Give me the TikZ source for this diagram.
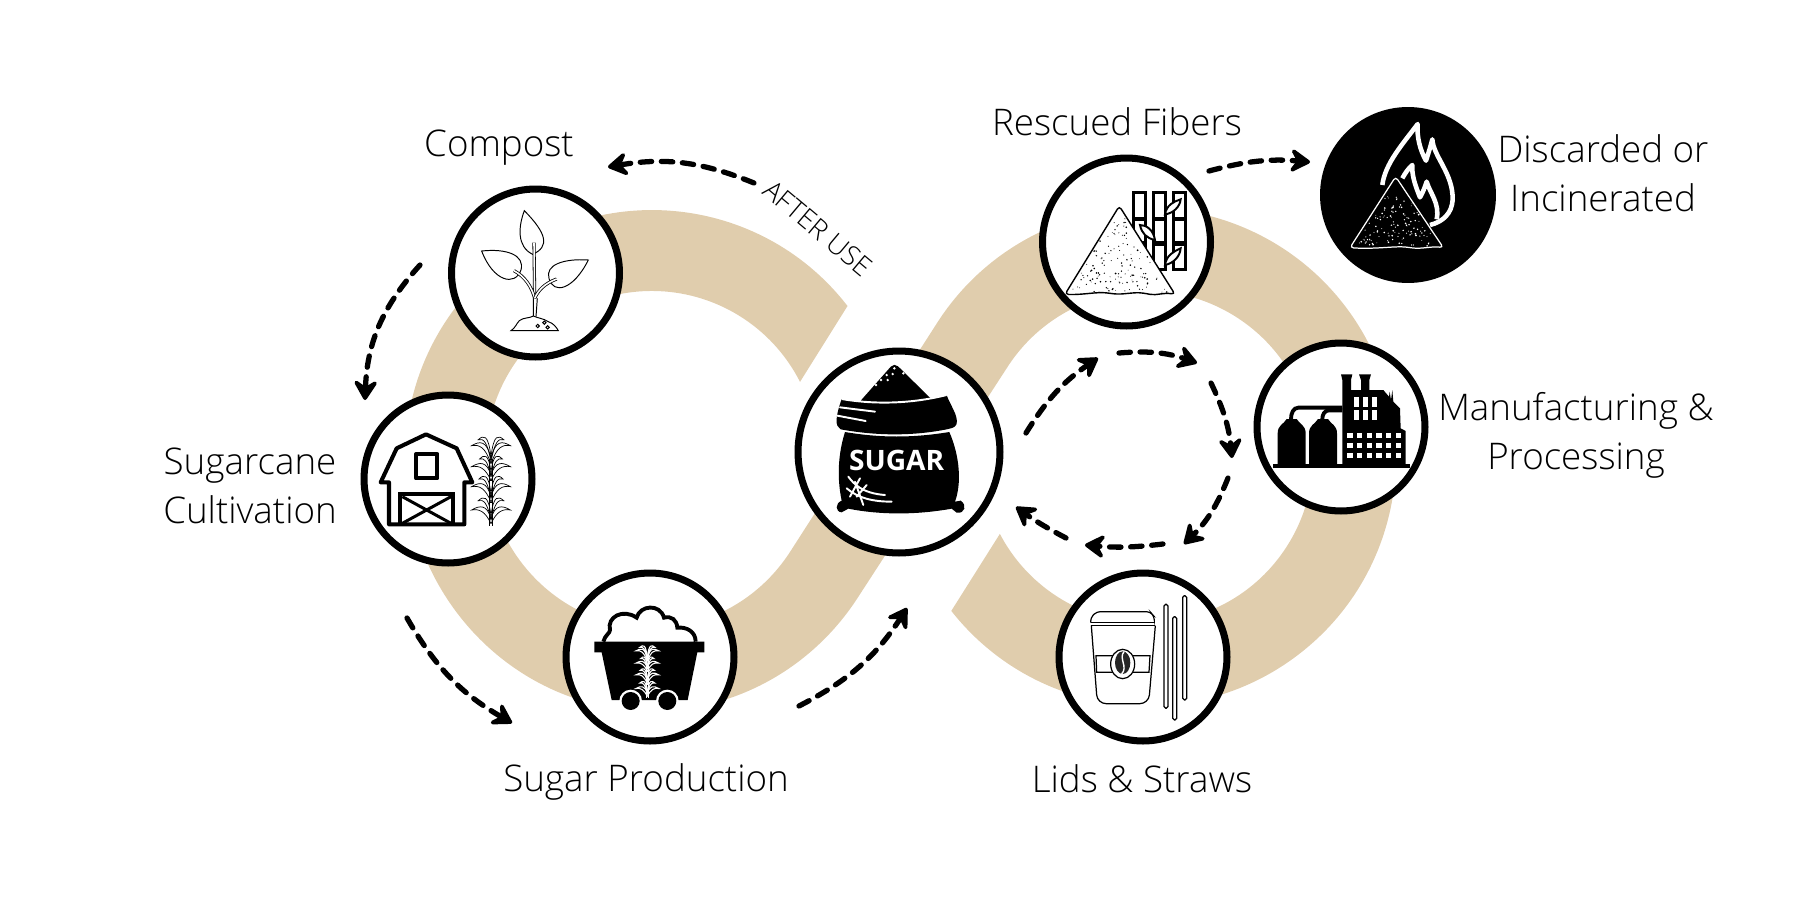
\documentclass[tikz,border=0pt]{standalone}
\usepackage{fontspec}
\setmainfont{Open Sans}[UprightFont=* Light, BoldFont=* Bold]
\usepackage{xcolor}
\usepackage{tikz}
\usetikzlibrary{arrows.meta, calc}
\definecolor{ringtan}{HTML}{E0CDAD}

% sugarcane plant, origin at the foot of the stem
\newcommand{\caneicon}[1]{%
  \draw[#1] (-4,0) -- (-4,-200) (4,0) -- (4,-200) (-4,-70) -- (4,-70) (-4,-135) -- (4,-135);
  \foreach \sd in {-1,1}
    \foreach \by/\tx/\ty in {-200/58/-240, -205/38/-258, -150/58/-177, -160/34/-200, -85/58/-117, -95/36/-140, -20/58/-47, -30/38/-75}
      \draw[#1] (0,\by) .. controls ({\sd*0.2*\tx},{\ty-18}) and ({\sd*0.6*\tx},{\ty-14}) .. ({\sd*\tx},\ty)
        .. controls ({\sd*0.6*\tx},{\ty-4}) and ({\sd*0.3*\tx},{\ty+4}) .. (0,{\by+14});
}
% speckled heap: apex x, apex y, left x, right x, base y, colour, dots
\newcommand{\heapdots}[7]{%
  \foreach \k in {1,...,#7}{
    \pgfmathsetmacro\uu{0.12+0.86*sqrt(rnd)}
    \pgfmathsetmacro\vv{0.04+0.92*rnd}
    \pgfmathsetmacro\rr{1.2+1.6*rnd}
    \fill[#6] ({#1+\uu*(#3-#1+\vv*(#4-#3))},{#2+\uu*(#5-#2)}) circle (\rr);
  }
}

\begin{document}
\begin{tikzpicture}[
  x=0.02cm, y=-0.02cm,
  iconcircle/.style={circle, draw=black, fill=white, line width=4pt, inner sep=0pt, minimum size=3.36cm},
  steptext/.style={align=center, font=\fontsize{20.9}{28}\selectfont},
  arrow/.style={-{Stealth[length=14pt, width=17pt, inset=5.5pt, round]}, line width=3pt,
                dash pattern=on 6.5pt off 5.5pt, line cap=round},
  crop/.style={shift={#1}, x=0.02cm/3, y=-0.02cm/3},
  thinline/.style={draw=black, line width=0.55pt}
]
\useasboundingbox (0,0) rectangle (1800,900);

% the tan band
\fill[ringtan] (847.5,306) arc[start angle=-37.7, end angle=-180, radius=247]
  arc[start angle=-180, end angle=-326.6, x radius=247, y radius=254]
  -- (1008.4,365.6) arc[start angle=-146.6, end angle=152.4, radius=166]
  -- (951.3,610.9) arc[start angle=141.8, end angle=-147, radius=249]
  -- (791.2,550.1) arc[start angle=33, end angle=180, x radius=166, y radius=171]
  arc[start angle=180, end angle=333.1, radius=166] -- cycle;

% circles
\node[iconcircle] (compost) at (535.5,273) {};
\node[iconcircle] (barn) at (448,479) {};
\node[iconcircle] (production) at (650,657) {};
\node[iconcircle, minimum size=4.04cm] (sugar) at (899,452) {};
\node[iconcircle] (fibers) at (1126.5,242) {};
\node[iconcircle] (factory) at (1341,427) {};
\node[iconcircle] (lids) at (1143,657) {};
\node[circle, fill=black, inner sep=0pt, minimum size=3.52cm] (burn) at (1408,195) {};

% labels
\node[steptext] (compostlabel) at (499,148) {Compost};
\node[steptext] (barnlabel) at (250,486) {Sugarcane\\Cultivation};
\node[steptext] (productionlabel) at (646,782) {Sugar Production};
\node[steptext] (fiberslabel) at (1117,122) {Rescued Fibers};
\node[steptext] (burnlabel) at (1603,173) {Discarded or\\Incinerated};
\node[steptext] (factorylabel) at (1576,435) {Manufacturing \&\\Processing};
\node[steptext] (lidslabel) at (1142,779) {Lids \& Straws};
\node[rotate=-40, font=\fontsize{15.5}{18}\selectfont] (afteruse) at (818,228) {AFTER USE};

% free ends of the arrows
\coordinate (useS) at (754,183);   \coordinate (useE) at (608,167);
\coordinate (compS) at (420,265);  \coordinate (compE) at (365,400);
\coordinate (barnS) at (407,618);  \coordinate (barnE) at (512,723);
\coordinate (prodS) at (799,706);  \coordinate (prodE) at (907,608);
\coordinate (sugS) at (1026,433);  \coordinate (sugE) at (1098,358);
\coordinate (topS) at (1119,353);  \coordinate (topE) at (1197,363);
\coordinate (rgtS) at (1211,383);  \coordinate (rgtE) at (1232,458);
\coordinate (lowS) at (1228,478);  \coordinate (lowE) at (1184,544);
\coordinate (botS) at (1163,544);  \coordinate (botE) at (1085,545);
\coordinate (endS) at (1066,538);  \coordinate (endE) at (1016,507);
\coordinate (fibS) at (1209,171);  \coordinate (fibE) at (1310,162);

% arrows
\draw[arrow] (useS) to[bend right=16] (useE);
\draw[arrow] (compS) to[bend right=20] (compE);
\draw[arrow] (barnS) to[bend right=15] (barnE);
\draw[arrow] (prodS) to[bend right=15] (prodE);
\draw[arrow] (sugS) to[bend left=12] (sugE);
\draw[arrow] (topS) to[bend left=12] (topE);
\draw[arrow] (rgtS) to[bend left=10] (rgtE);
\draw[arrow] (lowS) to[bend left=12] (lowE);
\draw[arrow] (botS) to[bend left=6] (botE);
\draw[arrow] (endS) to[bend left=4] (endE);
\draw[arrow] (fibS) to[bend left=10] (fibE);

% plant
\begin{scope}[crop={(450,190)}, thinline]
  \draw (223,62) .. controls (205,110) and (200,170) .. (248,193) .. controls (300,170) and (290,130) .. cycle;
  \draw (95,183) .. controls (170,175) and (225,195) .. (213,240) .. controls (195,290) and (130,275) .. cycle;
  \draw (415,210) .. controls (340,205) and (285,225) .. (297,265) .. controls (310,315) and (370,300) .. cycle;
  \draw[double=white, double distance=0.9pt, line width=0.45pt] (252,158) -- (254,325);
  \draw[double=white, double distance=0.9pt, line width=0.45pt] (192,242) .. controls (225,260) and (245,290) .. (254,325);
  \draw[double=white, double distance=0.9pt, line width=0.45pt] (320,267) .. controls (285,280) and (265,300) .. (254,325);
  \draw (250,325) -- (250,378) (262,325) -- (258,380);
  \draw (183,422) .. controls (195,415) and (200,400) .. (208,392) .. controls (220,382) and (240,385) .. (250,378)
    .. controls (265,385) and (280,385) .. (295,395) .. controls (310,400) and (318,410) .. (325,422) -- cycle;
  \draw (263,408) circle (5) (283,398) circle (5) (293,412) circle (5);
\end{scope}

% barn and cane
\begin{scope}[crop={(365,395)}]
  \draw[black, line width=2.3pt, line join=round] (47,262) -- (95,160) -- (183,118) -- (275,160) -- (322,262) -- (298,262)
    -- (298,388) -- (72,388) -- (72,262) -- cycle;
  \draw[black, line width=2.3pt, line join=round] (153,177) rectangle (217,250);
  \draw[black, line width=2.3pt] (105,388) -- (105,297) -- (265,297) -- (265,388);
  \draw[black, line width=1.7pt] (112,305) -- (258,385) (258,305) -- (112,385);
  \begin{scope}[shift={(378,392)}]
    \caneicon{black, line width=0.4pt}
  \end{scope}
\end{scope}

% cart
\begin{scope}[crop={(565,575)}]
  \draw[black, line width=2.2pt, fill=white] (115,200) .. controls (120,180) and (135,175) .. (135,165)
    .. controls (125,125) and (175,100) .. (215,128) .. controls (225,90) and (285,85) .. (297,128)
    .. controls (320,122) and (335,135) .. (337,158) .. controls (365,155) and (392,170) .. (392,200);
  \fill[black] (88,200) -- (418,200) -- (418,232) -- (397,232) -- (368,375) -- (140,375) -- (110,232) -- (88,232) -- cycle;
  \fill[white] (197,378) circle (34) (307,378) circle (34);
  \fill[black] (197,378) circle (27) (307,378) circle (27);
  \begin{scope}[shift={(247,368)}, x=0.0039cm, y=-0.0039cm]
    \caneicon{white, line width=0.6pt}
  \end{scope}
\end{scope}

% sugar sack
\begin{scope}[crop={(800,350)}]
  \fill[black, rounded corners=3pt] (175,160) -- (283,38) -- (402,155) -- cycle;
  \fill[black] (125,147) .. controls (230,165) and (340,160) .. (440,135) .. controls (450,165) and (475,195) .. (470,222)
    .. controls (465,235) and (450,235) .. (440,238) .. controls (340,258) and (230,258) .. (122,238)
    .. controls (105,228) and (105,205) .. (125,147) -- cycle;
  \draw[white, line width=1.1pt] (125,147) .. controls (230,165) and (340,160) .. (440,135);
  \fill[black] (135,246) .. controls (240,264) and (340,264) .. (448,246) .. controls (480,320) and (485,400) .. (465,455)
    -- (482,452) .. controls (502,465) and (495,492) .. (470,488) -- (455,476) .. controls (350,495) and (240,495) .. (145,476)
    -- (125,487) .. controls (105,485) and (105,460) .. (125,452) .. controls (110,380) and (115,310) .. (135,246) -- cycle;
  \foreach \dotx/\doty in {283/55, 310/70, 260/75, 278/72, 243/90, 263/90, 228/105}
    \fill[white] (\dotx,\doty) circle (4);
  \draw[white, line width=1.1pt, line cap=round] (120,172) -- (225,185) (112,197) -- (197,213);
  \draw[white, line width=1.1pt, line cap=round] (145,380) .. controls (160,400) and (185,430) .. (255,435)
    (140,415) .. controls (175,445) and (220,455) .. (275,455)
    (180,385) -- (150,440) (200,405) -- (170,440) (165,395) -- (190,465);
  \node[text=white, font=\fontsize{16}{18}\bfseries] (sugarword) at (290,330) {SUGAR};
\end{scope}

% fibres and heap
\begin{scope}[crop={(1040,155)}]
  \foreach \cx in {280,340,400}
    \foreach \cy/\ch in {113/77, 193/70, 268/75}
      \draw[black, line width=1.6pt, fill=white] (\cx,\cy) rectangle ({\cx+36},{\cy+\ch});
  \draw[black, line width=1.1pt, fill=white] (375,178) .. controls (380,150) and (400,140) .. (422,133) .. controls (420,155) and (400,175) .. cycle;
  \draw[black, line width=1.1pt, fill=white] (300,210) .. controls (320,210) and (340,225) .. (345,255) .. controls (320,250) and (305,235) .. cycle;
  \draw[black, line width=1.1pt, fill=white] (375,330) .. controls (380,300) and (400,290) .. (422,280) .. controls (420,305) and (400,325) .. cycle;
  \draw[black, line width=0.8pt, fill=white, rounded corners=2pt] (238,153) -- (405,418)
    .. controls (370,412) and (350,422) .. (320,416) .. controls (280,410) and (250,420) .. (210,415)
    .. controls (170,410) and (130,420) .. (75,418) -- cycle;
  \pgfmathsetseed{11}
  \heapdots{238}{153}{75}{405}{418}{black}{130}
\end{scope}

% flame and heap
\begin{scope}[crop={(1325,110)}]
  \draw[white, line width=2.6pt, line join=round] (172,225) .. controls (180,160) and (235,100) .. (278,42)
    .. controls (275,80) and (285,120) .. (303,152) .. controls (310,130) and (318,105) .. (322,88)
    .. controls (325,140) and (385,190) .. (383,270) .. controls (380,310) and (355,335) .. (315,345);
  \draw[white, line width=2.6pt, line join=round] (232,205) .. controls (240,190) and (250,175) .. (262,165)
    .. controls (260,195) and (270,225) .. (285,262) .. controls (295,245) and (300,230) .. (305,215)
    .. controls (315,250) and (345,280) .. (335,328);
  \draw[white, line width=0.7pt, fill=black, rounded corners=2pt] (212,200) -- (355,413)
    .. controls (320,408) and (290,418) .. (250,412) .. controls (210,408) and (150,418) .. (75,413) -- cycle;
  \pgfmathsetseed{5}
  \heapdots{212}{200}{75}{355}{413}{white}{120}
\end{scope}

% factory
\begin{scope}[crop={(1255,345)}]
  \fill[black] (258,88) -- (292,88) -- (288,105) -- (288,135) -- (318,135) -- (318,105) -- (312,88) -- (348,88)
    -- (343,105) -- (343,135) -- (385,135) -- (402,155) -- (404,140) -- (408,165) -- (412,135) -- (415,170) -- (435,190)
    -- (437,250) -- (452,258) -- (452,358) -- (262,358) -- (262,105) -- cycle;
  \foreach \wx in {298,325,352}
    \foreach \wy in {155,195}
      \fill[white] (\wx,\wy) rectangle ({\wx+14},{\wy+30});
  \foreach \wx in {277,306,335,364,393,422}
    \foreach \wy in {263,293,323}
      \fill[white] (\wx,\wy) rectangle ({\wx+16},{\wy+16});
  \foreach \tx in {68,162}
    \fill[black] (\tx,358) -- (\tx,265) .. controls (\tx,240) and ({\tx+18},238) .. ({\tx+27},222) -- ({\tx+57},222)
      .. controls ({\tx+66},238) and ({\tx+84},240) .. ({\tx+84},265) -- ({\tx+84},358) -- cycle;
  \draw[black, line width=2.2pt] (262,188) -- (130,188) .. controls (115,188) and (108,205) .. (108,222);
  \draw[black, line width=2.2pt] (262,196) -- (222,196) .. controls (208,196) and (202,210) .. (202,222);
  \fill[black] (55,358) rectangle (465,370);
\end{scope}

% cup and straws
\begin{scope}[crop={(1060,575)}]
  \draw[black, line width=0.7pt, rounded corners=2pt] (92,143) -- (92,128) -- (110,110) -- (270,110) -- (283,125) -- (283,133);
  \draw[black, line width=0.7pt] (92,143) -- (284,143) (94,152) -- (286,152);
  \draw[black, line width=0.7pt, rounded corners=5pt] (94,152) -- (112,386) -- (266,386) -- (286,152);
  \draw[black, line width=0.7pt, fill=white] (108,242) -- (270,242) -- (267,292) -- (110,292) -- cycle;
  \draw[black, line width=0.7pt, fill=white] (188,267) ellipse[x radius=36, y radius=44];
  \fill[black!85] (188,263) ellipse[x radius=23, y radius=34];
  \draw[white, line width=0.8pt] (192,230) .. controls (175,250) and (205,275) .. (185,297);
  \foreach \sx/\stw/\sbt in {312/88/400, 338/125/435, 368/62/375}
    \draw[black, line width=0.7pt, rounded corners=1pt] (\sx,\stw) rectangle ({\sx+12},\sbt);
\end{scope}
\end{tikzpicture}
\end{document}
